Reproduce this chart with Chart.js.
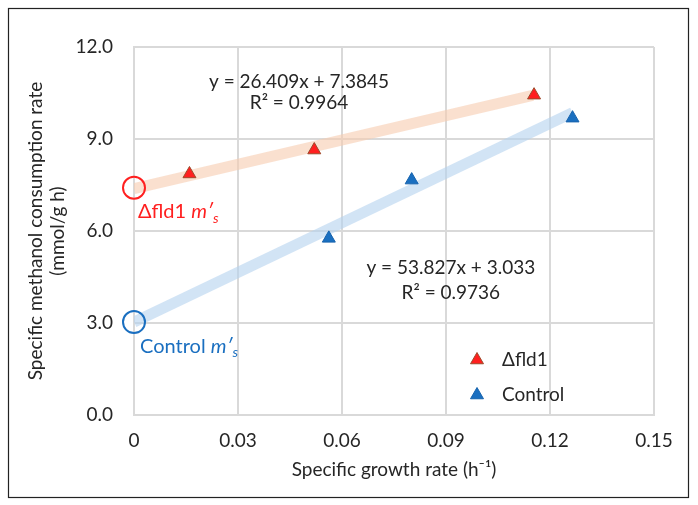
<!DOCTYPE html>
<html>
<head>
<meta charset="utf-8">
<script src="https://cdn.jsdelivr.net/npm/chart.js@4"></script>
<style>
  html, body { margin: 0; padding: 0; background: #fff; }
  #wrap { width: 698px; height: 505px; position: relative; }
</style>
</head>
<body>
<div id="wrap"><canvas id="chart"></canvas></div>
<script>
// data
const fldX = [0.016, 0.052, 0.1154];
const fldY = [7.86, 8.64, 10.43];
const ctlX = [0.0562, 0.0801, 0.1265];
const ctlY = [5.76, 7.66, 9.68];

// trendline end points
const fldTrendX = [0, 0.115];
const fldTrendY = [7.38, 10.42];
const ctlTrendX = [0, 0.1265];
const ctlTrendY = [3.03, 9.86];

// y-intercepts (m's) marked with open circles
const fldInterceptY = 7.41;
const ctlInterceptY = 3.03;

const xTicks = [0, 0.03, 0.06, 0.09, 0.12, 0.15];
const xTickLabels = ["0", "0.03", "0.06", "0.09", "0.12", "0.15"];
const yTicks = [0, 3, 6, 9, 12];

const seriesNames = ["\u0394fld1", "Control"];
const fldEquation = ["y = 26.409x + 7.3845", "R\u00b2 = 0.9964"];
const ctlEquation = ["y = 53.827x + 3.033", "R\u00b2 = 0.9736"];

const FONT = "Lato, 'Open Sans', sans-serif";
const TEXT = "#262626";
const RED = "#ff1f1f";
const BLUE = "#1a6fc0";

const toPoints = (xs, ys) => xs.map((x, i) => ({ x, y: ys[i] }));

// frame, annotations and legend
const extras = {
  id: "extras",
  beforeDraw(chart) {
    const ctx = chart.ctx;
    ctx.save();
    ctx.strokeStyle = "#222";
    ctx.lineWidth = 1.2;
    ctx.strokeRect(8.5, 8.5, 680, 489);
    ctx.restore();
  },
  afterDraw(chart) {
    const ctx = chart.ctx;
    const xs = chart.scales.x, ys = chart.scales.y;
    ctx.save();
    ctx.textBaseline = "middle";

    // equations
    ctx.fillStyle = TEXT;
    ctx.font = "19px " + FONT;
    ctx.textAlign = "center";
    ctx.fillText(fldEquation[0], xs.getPixelForValue(0.0476), ys.getPixelForValue(10.86));
    ctx.fillText(fldEquation[1], xs.getPixelForValue(0.0476), ys.getPixelForValue(10.17));
    ctx.fillText(ctlEquation[0], xs.getPixelForValue(0.0914), ys.getPixelForValue(4.79));
    ctx.fillText(ctlEquation[1], xs.getPixelForValue(0.0914), ys.getPixelForValue(3.98));

    // m's labels
    function mLabel(prefix, x, y, color) {
      ctx.textAlign = "left";
      ctx.fillStyle = color;
      ctx.font = "20px " + FONT;
      ctx.fillText(prefix + " ", x, y);
      let w = ctx.measureText(prefix + " ").width;
      ctx.font = "italic 20px " + FONT;
      ctx.fillText("m\u2032", x + w, y);
      w += ctx.measureText("m\u2032").width;
      ctx.font = "italic 14px " + FONT;
      ctx.fillText("s", x + w, y + 6);
    }
    mLabel(seriesNames[0], 138, ys.getPixelForValue(6.62), RED);
    mLabel("Control", 140, ys.getPixelForValue(2.22), BLUE);

    // legend
    const legend = [
      { name: seriesNames[0], fill: RED, stroke: "#9c4a2a", y: 360 },
      { name: seriesNames[1], fill: BLUE, stroke: "#1763ad", y: 395 }
    ];
    legend.forEach(item => {
      ctx.fillStyle = item.fill;
      ctx.strokeStyle = item.stroke;
      ctx.lineWidth = 1;
      Chart.helpers.drawPoint(ctx, { pointStyle: "triangle", radius: 7.5, rotation: 0, borderWidth: 1 }, 477, item.y);
      ctx.fillStyle = TEXT;
      ctx.font = "19px " + FONT;
      ctx.textAlign = "left";
      ctx.fillText(item.name, 502, item.y);
    });
    ctx.restore();
  }
};

const chart = new Chart(document.getElementById("chart"), {
  type: "scatter",
  data: {
    datasets: [
      {
        label: "fld1 trend",
        data: toPoints(fldTrendX, fldTrendY),
        showLine: true,
        borderColor: "rgba(247, 203, 175, 0.6)",
        borderWidth: 11,
        borderCapStyle: "butt",
        pointRadius: 0,
        order: 5
      },
      {
        label: "control trend",
        data: toPoints(ctlTrendX, ctlTrendY),
        showLine: true,
        borderColor: "rgba(180, 210, 238, 0.6)",
        borderWidth: 11,
        borderCapStyle: "butt",
        pointRadius: 0,
        order: 4
      },
      {
        label: "fld1 intercept",
        data: [{ x: 0, y: fldInterceptY }],
        pointStyle: "circle",
        pointRadius: 11,
        backgroundColor: "rgba(0,0,0,0)",
        borderColor: RED,
        borderWidth: 2,
        clip: false,
        order: 3
      },
      {
        label: "control intercept",
        data: [{ x: 0, y: ctlInterceptY }],
        pointStyle: "circle",
        pointRadius: 11,
        backgroundColor: "rgba(0,0,0,0)",
        borderColor: BLUE,
        borderWidth: 2,
        clip: false,
        order: 3
      },
      {
        label: seriesNames[0],
        data: toPoints(fldX, fldY),
        pointStyle: "triangle",
        pointRadius: 7.5,
        backgroundColor: RED,
        borderColor: "#9c4a2a",
        borderWidth: 1,
        order: 1
      },
      {
        label: seriesNames[1],
        data: toPoints(ctlX, ctlY),
        pointStyle: "triangle",
        pointRadius: 7.5,
        backgroundColor: BLUE,
        borderColor: "#1763ad",
        borderWidth: 1,
        order: 1
      }
    ]
  },
  options: {
    responsive: true,
    maintainAspectRatio: false,
    animation: false,
    layout: { padding: { left: 0, top: 47, right: 44, bottom: 0 } },
    plugins: {
      legend: { display: false },
      tooltip: { enabled: false }
    },
    scales: {
      x: {
        type: "linear",
        min: 0,
        max: 0.15,
        afterBuildTicks: scale => { scale.ticks = xTicks.map(v => ({ value: v })); },
        afterFit: scale => { scale.height = 90; },
        ticks: {
          color: TEXT,
          font: { family: FONT, size: 19 },
          padding: 14,
          maxRotation: 0,
          callback: (v, i) => xTickLabels[i]
        },
        grid: { color: "#d9d9d9", lineWidth: 2, drawTicks: false },
        border: { color: "#d9d9d9", width: 2 },
        title: {
          display: true,
          text: "Specific growth rate (h\u207b\u00b9)",
          color: TEXT,
          font: { family: FONT, size: 19 },
          padding: { top: 0, bottom: 24 }
        }
      },
      y: {
        min: 0,
        max: 12,
        afterBuildTicks: scale => { scale.ticks = yTicks.map(v => ({ value: v })); },
        afterFit: scale => { scale.width = 134; },
        ticks: {
          color: TEXT,
          font: { family: FONT, size: 19 },
          padding: 21,
          callback: v => v.toFixed(1)
        },
        grid: { color: "#d9d9d9", lineWidth: 2, drawTicks: false },
        border: { color: "#d9d9d9", width: 2 },
        title: {
          display: true,
          text: ["Specific methanol consumption rate", "(mmol/g h)"],
          color: TEXT,
          font: { family: FONT, size: 19 },
          padding: { top: 24, bottom: 0 }
        }
      }
    }
  },
  plugins: [extras]
});
</script>
</body>
</html>
